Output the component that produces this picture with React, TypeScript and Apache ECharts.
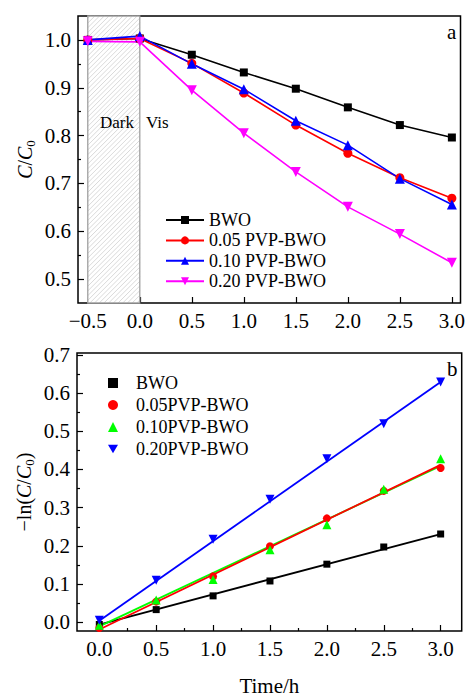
import React, { useEffect, useRef } from "react";
import * as echarts from "echarts";

const FONT = '"Liberation Serif", "Times New Roman", serif';

// ---- Panel a: C/C0 vs time ----
const timeTop = [-0.5, 0, 0.5, 1.0, 1.5, 2.0, 2.5, 3.0];
const ratioBWO = [1.0, 1.003, 0.969, 0.932, 0.898, 0.859, 0.822, 0.796];
const ratio005 = [1.0, 1.003, 0.951, 0.889, 0.822, 0.763, 0.712, 0.669];
const ratio010 = [1.0, 1.008, 0.95, 0.897, 0.831, 0.78, 0.71, 0.656];
const ratio020 = [0.997, 0.996, 0.895, 0.805, 0.724, 0.651, 0.594, 0.534];
const namesTop = ["BWO", "0.05 PVP-BWO", "0.10 PVP-BWO", "0.20 PVP-BWO"];
const darkPhase = [-0.5, 0];
const xTicksTop = [-0.5, 0, 0.5, 1.0, 1.5, 2.0, 2.5, 3.0];
const yTicksTop = [0.5, 0.6, 0.7, 0.8, 0.9, 1.0];
const yMinorTop = [0.55, 0.65, 0.75, 0.85, 0.95];

// ---- Panel b: -ln(C/C0) vs time ----
const timeBottom = [0, 0.5, 1.0, 1.5, 2.0, 2.5, 3.0];
const lnBWO = [-0.006, 0.033, 0.069, 0.108, 0.152, 0.197, 0.231];
const ln005 = [-0.015, 0.054, 0.12, 0.199, 0.272, 0.344, 0.404];
const ln010 = [-0.008, 0.058, 0.112, 0.19, 0.255, 0.348, 0.428];
const ln020 = [0.005, 0.11, 0.217, 0.322, 0.428, 0.52, 0.629];
const fitTime = [0, 3.0];
const fitBWO = [-0.006, 0.231];
const fit005 = [-0.019, 0.412];
const fit010 = [-0.011, 0.409];
const fit020 = [0.004, 0.629];
const namesBottom = ["BWO", "0.05PVP-BWO", "0.10PVP-BWO", "0.20PVP-BWO"];
const xTicksBottom = [0, 0.5, 1.0, 1.5, 2.0, 2.5, 3.0];
const xMinorBottom = [0.25, 0.75, 1.25, 1.75, 2.25, 2.75];
const yTicksBottom = [0, 0.1, 0.2, 0.3, 0.4, 0.5, 0.6, 0.7];
const yMinorBottom = [0.05, 0.15, 0.25, 0.35, 0.45, 0.55, 0.65];

const DOWN_TRI = "path://M0,0L10,0L5,8.66Z";

const pairs = (xs: number[], ys: number[]) => xs.map((x, i) => [x, ys[i]]);
const fmt = (v: number) => (v < 0 ? "\u2212" : "") + Math.abs(v).toFixed(1);

export default function App() {
  const ref = useRef<HTMLDivElement>(null);

  useEffect(() => {
    document.body.style.margin = "0";
    if (!ref.current) return;
    const chart = echarts.init(ref.current, undefined, { renderer: "svg" });

    const nameRich = {
      i: { fontStyle: "italic", fontSize: 20, fontFamily: FONT, color: "#000", lineHeight: 24 },
      s: { fontSize: 13, fontFamily: FONT, color: "#000", lineHeight: 13, verticalAlign: "bottom" },
    };

    const tickStyle = { color: "#000", width: 1.2 };
    const labelStyle = { formatter: fmt, fontSize: 21, fontFamily: FONT, color: "#000" };

    const majorX = (grid: number, min: number, max: number, ticks: number[], extra: any = {}) => ({
      gridIndex: grid,
      type: "value",
      min,
      max,
      position: "bottom",
      axisLine: { show: false, onZero: false },
      splitLine: { show: false },
      axisTick: { inside: true, length: 6, customValues: ticks, lineStyle: tickStyle },
      axisLabel: { customValues: ticks, margin: 7, ...labelStyle },
      ...extra,
    });
    const minorX = (grid: number, min: number, max: number, ticks: number[]) => ({
      gridIndex: grid,
      type: "value",
      min,
      max,
      position: "bottom",
      axisLine: { show: false, onZero: false },
      splitLine: { show: false },
      axisTick: { inside: true, length: 3, customValues: ticks, lineStyle: tickStyle },
      axisLabel: { show: false },
    });
    const majorY = (grid: number, min: number, max: number, ticks: number[], extra: any = {}) => ({
      gridIndex: grid,
      type: "value",
      min,
      max,
      position: "left",
      axisLine: { show: false, onZero: false },
      splitLine: { show: false },
      axisTick: { inside: true, length: 6, customValues: ticks, lineStyle: tickStyle },
      axisLabel: { customValues: ticks, margin: 7, ...labelStyle },
      ...extra,
    });
    const minorY = (grid: number, min: number, max: number, ticks: number[]) => ({
      gridIndex: grid,
      type: "value",
      min,
      max,
      position: "left",
      axisLine: { show: false, onZero: false },
      splitLine: { show: false },
      axisTick: { inside: true, length: 3, customValues: ticks, lineStyle: tickStyle },
      axisLabel: { show: false },
    });

    const topLine = (name: string, ys: number[], color: string, symbol: string, size: number) => ({
      name,
      type: "line",
      xAxisIndex: 0,
      yAxisIndex: 0,
      data: pairs(timeTop, ys),
      symbol,
      symbolSize: size,
      showSymbol: true,
      lineStyle: { color, width: 1.6 },
      itemStyle: { color, opacity: 1 },
      z: 3,
    });
    const bottomScatter = (name: string, ys: number[], color: string, symbol: string, size: number) => ({
      name: "b:" + name,
      type: "scatter",
      xAxisIndex: 2,
      yAxisIndex: 2,
      data: pairs(timeBottom, ys),
      symbol,
      symbolSize: size,
      itemStyle: { color, opacity: 1 },
      z: 3,
    });
    const fitLine = (name: string, ys: number[], color: string) => ({
      name: "fit:" + name,
      type: "line",
      xAxisIndex: 2,
      yAxisIndex: 2,
      data: pairs(fitTime, ys),
      showSymbol: false,
      symbol: "none",
      lineStyle: { color, width: 1.8 },
      itemStyle: { color },
      z: 2,
    });

    const option: any = {
      animation: false,
      backgroundColor: "#fff",
      textStyle: { fontFamily: FONT },
      grid: [
        { left: 78, top: 16, width: 383.7, height: 287, show: true, borderColor: "#000", borderWidth: 1.5, backgroundColor: "transparent" },
        { left: 77, top: 353, width: 384.7, height: 283, show: true, borderColor: "#000", borderWidth: 1.5, backgroundColor: "transparent" },
      ],
      xAxis: [
        majorX(0, -0.594, 3.083, xTicksTop),
        minorX(0, -0.594, 3.083, []),
        majorX(1, -0.196, 3.185, xTicksBottom, {
          name: "Time/h",
          nameLocation: "middle",
          nameGap: 44,
          nameMoveOverlap: false,
          nameTextStyle: { fontSize: 21, fontFamily: FONT, color: "#000" },
        }),
        minorX(1, -0.196, 3.185, xMinorBottom),
      ],
      yAxis: [
        majorY(0, 0.45, 1.05, yTicksTop, {
          name: "{i|C}/{i|C}{s|0}",
          nameLocation: "middle",
          nameRotate: 90,
          nameGap: 41,
          nameMoveOverlap: false,
          nameTextStyle: { fontSize: 20, fontFamily: FONT, color: "#000", lineHeight: 24, rich: nameRich },
        }),
        minorY(0, 0.45, 1.05, yMinorTop),
        majorY(1, -0.023, 0.705, yTicksBottom, {
          name: "\u2212ln({i|C}/{i|C}{s|0})",
          nameLocation: "middle",
          nameRotate: 90,
          nameGap: 41,
          nameMoveOverlap: false,
          nameTextStyle: { fontSize: 20, fontFamily: FONT, color: "#000", lineHeight: 24, rich: nameRich },
        }),
        minorY(1, -0.023, 0.705, yMinorBottom),
      ],
      legend: [
        {
          orient: "vertical",
          left: 160,
          top: 206,
          itemWidth: 38,
          itemHeight: 10,
          itemGap: 2.4,
          selectedMode: false,
          data: namesTop,
          textStyle: { fontSize: 18, fontFamily: FONT, color: "#000", lineHeight: 18 },
        },
        {
          orient: "vertical",
          left: 103,
          top: 369,
          itemWidth: 10,
          itemHeight: 10,
          itemGap: 4,
          selectedMode: false,
          data: namesBottom.map((n) => "b:" + n),
          formatter: (n: string) => n.replace(/^b:/, ""),
          textStyle: { fontSize: 18, fontFamily: FONT, color: "#000", lineHeight: 18, padding: [0, 0, 0, 13] },
        },
      ],
      graphic: [
        { type: "text", left: 447, top: 21, style: { text: "a", font: `21px ${FONT}`, fill: "#000" } },
        { type: "text", left: 447, top: 358, style: { text: "b", font: `21px ${FONT}`, fill: "#000" } },
      ],
      series: [
        {
          name: "dark",
          type: "custom",
          xAxisIndex: 0,
          yAxisIndex: 0,
          data: [darkPhase],
          z: 1,
          silent: true,
          renderItem: (params: any, api: any) => {
            const cs = params.coordSys;
            const xa = api.coord([darkPhase[0], 1])[0];
            const xb = api.coord([darkPhase[1], 1])[0];
            const y0 = cs.y;
            const y1 = cs.y + cs.height;
            const children: any[] = [
              {
                type: "rect",
                shape: { x: xa, y: y0, width: xb - xa, height: y1 - y0 },
                style: { fill: "#fff", stroke: "none" },
              },
            ];
            const step = 4.7;
            for (let c = xa + y0 + step / 2; c < xb + y1; c += step) {
              const sx = Math.max(xa, c - y1);
              const ex = Math.min(xb, c - y0);
              if (ex <= sx) continue;
              children.push({
                type: "line",
                shape: { x1: sx, y1: c - sx, x2: ex, y2: c - ex },
                style: { stroke: "#c8c8c8", lineWidth: 0.7 },
              });
            }
            children.push({
              type: "rect",
              shape: { x: xa, y: y0, width: xb - xa, height: y1 - y0 },
              style: { fill: "none", stroke: "#a0a0a0", lineWidth: 1.3 },
            });
            const dp = api.coord([-0.22, 0.828]);
            const vp = api.coord([0.06, 0.828]);
            children.push({
              type: "text",
              style: { text: "Dark", x: dp[0], y: dp[1], textAlign: "center", textVerticalAlign: "middle", font: `17px ${FONT}`, fill: "#000" },
            });
            children.push({
              type: "text",
              style: { text: "Vis", x: vp[0], y: vp[1], textAlign: "left", textVerticalAlign: "middle", font: `17px ${FONT}`, fill: "#000" },
            });
            return { type: "group", children };
          },
        },
        topLine(namesTop[0], ratioBWO, "#000000", "rect", 8),
        topLine(namesTop[1], ratio005, "#ff0000", "circle", 9),
        topLine(namesTop[2], ratio010, "#0000ff", "triangle", 10),
        topLine(namesTop[3], ratio020, "#ff00ff", DOWN_TRI, 10),
        fitLine(namesBottom[0], fitBWO, "#000000"),
        fitLine(namesBottom[2], fit010, "#00ff00"),
        fitLine(namesBottom[1], fit005, "#ff0000"),
        fitLine(namesBottom[3], fit020, "#0000ff"),
        bottomScatter(namesBottom[0], lnBWO, "#000000", "rect", 7),
        bottomScatter(namesBottom[1], ln005, "#ff0000", "circle", 8),
        bottomScatter(namesBottom[2], ln010, "#00ff00", "triangle", 9),
        bottomScatter(namesBottom[3], ln020, "#0000ff", DOWN_TRI, 9),
      ],
    };

    chart.setOption(option);
    return () => chart.dispose();
  }, []);

  return <div ref={ref} style={{ width: 468, height: 697 }} />;
}
